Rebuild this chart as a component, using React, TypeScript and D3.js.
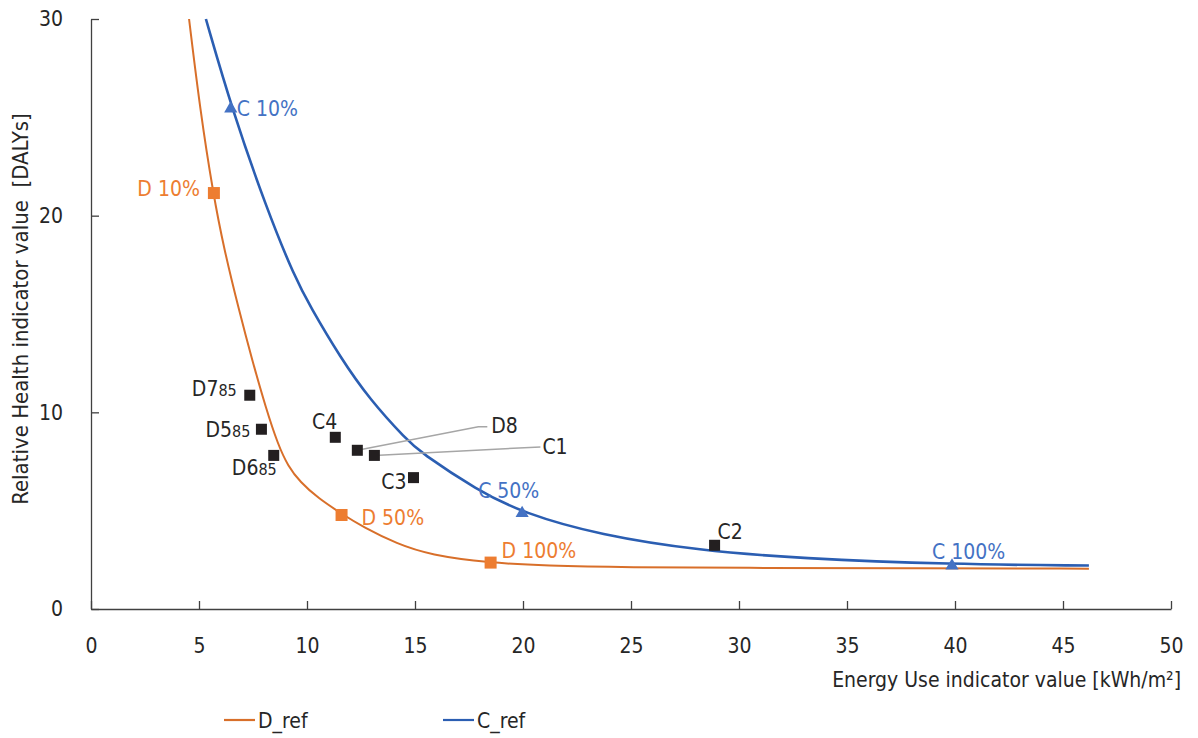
import { useRef, useEffect } from "react";
import * as d3 from "d3";

// reference curves
const dRefX = [4.54, 5.05, 5.65, 6.16, 6.85, 7.45, 8.1, 8.66, 9.12, 9.68, 10.51, 11.62, 12.59, 14.17, 15.69, 18.47, 21, 24.95, 30, 38, 46.2];
const dRefY = [30, 25.4, 21.15, 18.3, 15.2, 12.7, 10.2, 8.35, 7.27, 6.46, 5.64, 4.83, 4.17, 3.31, 2.75, 2.34, 2.2, 2.12, 2.09, 2.07, 2.05];
const cRefX = [5.32, 6.53, 8.15, 9.44, 10.14, 11.53, 12.92, 14.63, 15.23, 17.87, 20.0, 23.56, 28.19, 32.82, 39.77, 46.2];
const cRefY = [30, 25.4, 20.3, 16.85, 15.4, 12.81, 10.63, 8.59, 7.98, 6.05, 4.88, 3.76, 2.97, 2.57, 2.27, 2.21];

// scenario markers on the curves
const dScenLabels = ["D 10%", "D 50%", "D 100%"];
const dScenX = [5.69, 11.6, 18.5];
const dScenY = [21.15, 4.78, 2.36];
const cScenLabels = ["C 10%", "C 50%", "C 100%"];
const cScenX = [6.47, 19.96, 39.86];
const cScenY = [25.44, 4.87, 2.2];

// case buildings
const caseLabels = ["D7", "D5", "D6", "C4", "D8", "C1", "C3", "C2"];
const caseSubs = ["85", "85", "85", "", "", "", "", ""];
const caseX = [7.35, 7.89, 8.46, 11.31, 12.33, 13.12, 14.93, 28.87];
const caseY = [10.87, 9.14, 7.81, 8.73, 8.07, 7.81, 6.68, 3.24];

const xTicks = [0, 5, 10, 15, 20, 25, 30, 35, 40, 45, 50];
const yTicks = [0, 10, 20, 30];

const FONT = "'Liberation Sans Narrow', 'DejaVu Sans Condensed', 'Arial Narrow', sans-serif";
const FS = 21;
const ORANGE_LINE = "#D86F2A";
const ORANGE = "#ED7D31";
const BLUE_LINE = "#2B5EB2";
const BLUE = "#4472C4";
const DARK = "#231F20";
const TEXT = "#262626";

// label placement relative to marker (px): [dx, dy, anchor]
const scenOffsets: Record<string, [number, number, string]> = {
  "D 10%": [-14, -5, "end"],
  "D 50%": [20, 2, "start"],
  "D 100%": [11, -12, "start"],
  "C 10%": [6, 0, "start"],
  "C 50%": [-44, -23, "start"],
  "C 100%": [-20, -14, "start"],
};
const caseOffsets: Record<string, [number, number, string]> = {
  D7: [-13, -7, "end"],
  D5: [-11, 0, "end"],
  D6: [3, 12, "end"],
  C4: [2, -16, "end"],
  D8: [134, -25, "start"],
  C1: [168, -9, "start"],
  C3: [-7, 4, "end"],
  C2: [3, -14, "start"],
};

export default function App() {
  const ref = useRef<SVGSVGElement>(null);

  useEffect(() => {
    if (!ref.current) return;
    const svg = d3.select(ref.current);
    svg.selectAll("*").remove();

    const x = d3.scaleLinear().domain([0, 50]).range([91, 1171]);
    const y = d3.scaleLinear().domain([0, 30]).range([609, 19]);

    // axes
    const gx = svg
      .append("g")
      .attr("transform", `translate(0,${y(0)})`)
      .call(d3.axisBottom(x).tickValues(xTicks).tickSize(-8).tickSizeOuter(0).tickPadding(29));
    const gy = svg
      .append("g")
      .attr("transform", `translate(${x(0)},0)`)
      .call(d3.axisLeft(y).tickValues(yTicks).tickSize(-8).tickSizeOuter(0).tickPadding(28));
    [gx, gy].forEach((g) => {
      g.attr("font-family", FONT).attr("font-size", FS);
      g.select(".domain").attr("stroke", "#404040").attr("stroke-width", 1.3);
      g.selectAll(".tick line").attr("stroke", "#404040").attr("stroke-width", 1.3);
      g.selectAll(".tick text").attr("fill", TEXT);
    });

    // axis titles
    svg
      .append("text")
      .attr("x", 1181)
      .attr("y", 687)
      .attr("text-anchor", "end")
      .attr("font-family", FONT)
      .attr("font-size", FS)
      .attr("fill", TEXT)
      .text("Energy Use indicator value [kWh/m²]");
    svg
      .append("text")
      .attr("transform", "translate(28,309) rotate(-90)")
      .attr("text-anchor", "middle")
      .attr("font-family", FONT)
      .attr("font-size", 22)
      .attr("fill", TEXT)
      .style("white-space", "pre")
      .text("Relative Health indicator value  [DALYs]");

    // curves (smoothed through the read points)
    const drawCurve = (xs: number[], ys: number[], color: string, w: number) => {
      const pts = xs.map((v, i) => [x(v), y(ys[i])] as [number, number]);
      svg
        .append("path")
        .attr("d", d3.line().curve(d3.curveBasis)(pts))
        .attr("fill", "none")
        .attr("stroke", color)
        .attr("stroke-width", w);
    };
    drawCurve(dRefX, dRefY, ORANGE_LINE, 2);
    drawCurve(cRefX, cRefY, BLUE_LINE, 2.6);

    // leader lines for D8 and C1
    const leaders = svg.append("g").attr("stroke", "#A6A6A6").attr("stroke-width", 1.5).attr("fill", "none");
    caseLabels.forEach((lab, i) => {
      if (lab !== "D8" && lab !== "C1") return;
      const px = x(caseX[i]);
      const py = y(caseY[i]);
      const [dx, dy] = caseOffsets[lab];
      const pts: [number, number][] =
        lab === "D8"
          ? [[px, py], [px + dx - 13, py + dy + 1.5], [px + dx - 4, py + dy + 1.5]]
          : [[px, py], [px + dx - 2, py + dy + 0.5]];
      leaders.append("path").attr("d", d3.line()(pts));
    });

    // case squares
    const s = 11;
    svg
      .append("g")
      .selectAll("rect")
      .data(caseLabels)
      .join("rect")
      .attr("x", (_, i) => x(caseX[i]) - s / 2)
      .attr("y", (_, i) => y(caseY[i]) - s / 2)
      .attr("width", s)
      .attr("height", s)
      .attr("fill", DARK);

    const caseText = svg
      .append("g")
      .attr("font-family", FONT)
      .attr("font-size", FS)
      .attr("fill", TEXT)
      .selectAll("text")
      .data(caseLabels)
      .join("text")
      .attr("x", (d, i) => x(caseX[i]) + caseOffsets[d][0])
      .attr("y", (d, i) => y(caseY[i]) + caseOffsets[d][1])
      .attr("dy", "0.36em")
      .attr("text-anchor", (d) => caseOffsets[d][2]);
    caseText.append("tspan").text((d) => d);
    caseText
      .append("tspan")
      .attr("font-size", 16)
      .text((_, i) => caseSubs[i]);

    // D scenario squares
    const ds = 12;
    svg
      .append("g")
      .selectAll("rect")
      .data(dScenLabels)
      .join("rect")
      .attr("x", (_, i) => x(dScenX[i]) - ds / 2)
      .attr("y", (_, i) => y(dScenY[i]) - ds / 2)
      .attr("width", ds)
      .attr("height", ds)
      .attr("fill", ORANGE);

    // C scenario triangles
    const tri = d3.symbol().type(d3.symbolTriangle).size(75);
    svg
      .append("g")
      .selectAll("path")
      .data(cScenLabels)
      .join("path")
      .attr("transform", (_, i) => `translate(${x(cScenX[i])},${y(cScenY[i])})`)
      .attr("d", tri())
      .attr("fill", BLUE);

    const scenText = (labels: string[], xs: number[], ys: number[], color: string) => {
      svg
        .append("g")
        .attr("font-family", FONT)
        .attr("font-size", FS)
        .attr("fill", color)
        .selectAll("text")
        .data(labels)
        .join("text")
        .attr("x", (d, i) => x(xs[i]) + scenOffsets[d][0])
        .attr("y", (d, i) => y(ys[i]) + scenOffsets[d][1])
        .attr("dy", "0.36em")
        .attr("text-anchor", (d) => scenOffsets[d][2])
        .text((d) => d);
    };
    scenText(dScenLabels, dScenX, dScenY, ORANGE);
    scenText(cScenLabels, cScenX, cScenY, BLUE);

    // legend
    const legend = [
      { name: "D_ref", color: ORANGE_LINE, x0: 224 },
      { name: "C_ref", color: BLUE_LINE, x0: 443 },
    ];
    const lg = svg.append("g").attr("font-family", FONT).attr("font-size", FS).attr("fill", TEXT);
    legend.forEach((l) => {
      lg.append("line")
        .attr("x1", l.x0)
        .attr("x2", l.x0 + 31)
        .attr("y1", 720)
        .attr("y2", 720)
        .attr("stroke", l.color)
        .attr("stroke-width", 2.2);
      lg.append("text")
        .attr("x", l.x0 + 34)
        .attr("y", 728)
        .text(l.name);
    });
  }, []);

  return (
    <svg
      ref={ref}
      width={1198}
      height={738}
      style={{ position: "absolute", left: 0, top: 0, background: "#fff" }}
    />
  );
}
